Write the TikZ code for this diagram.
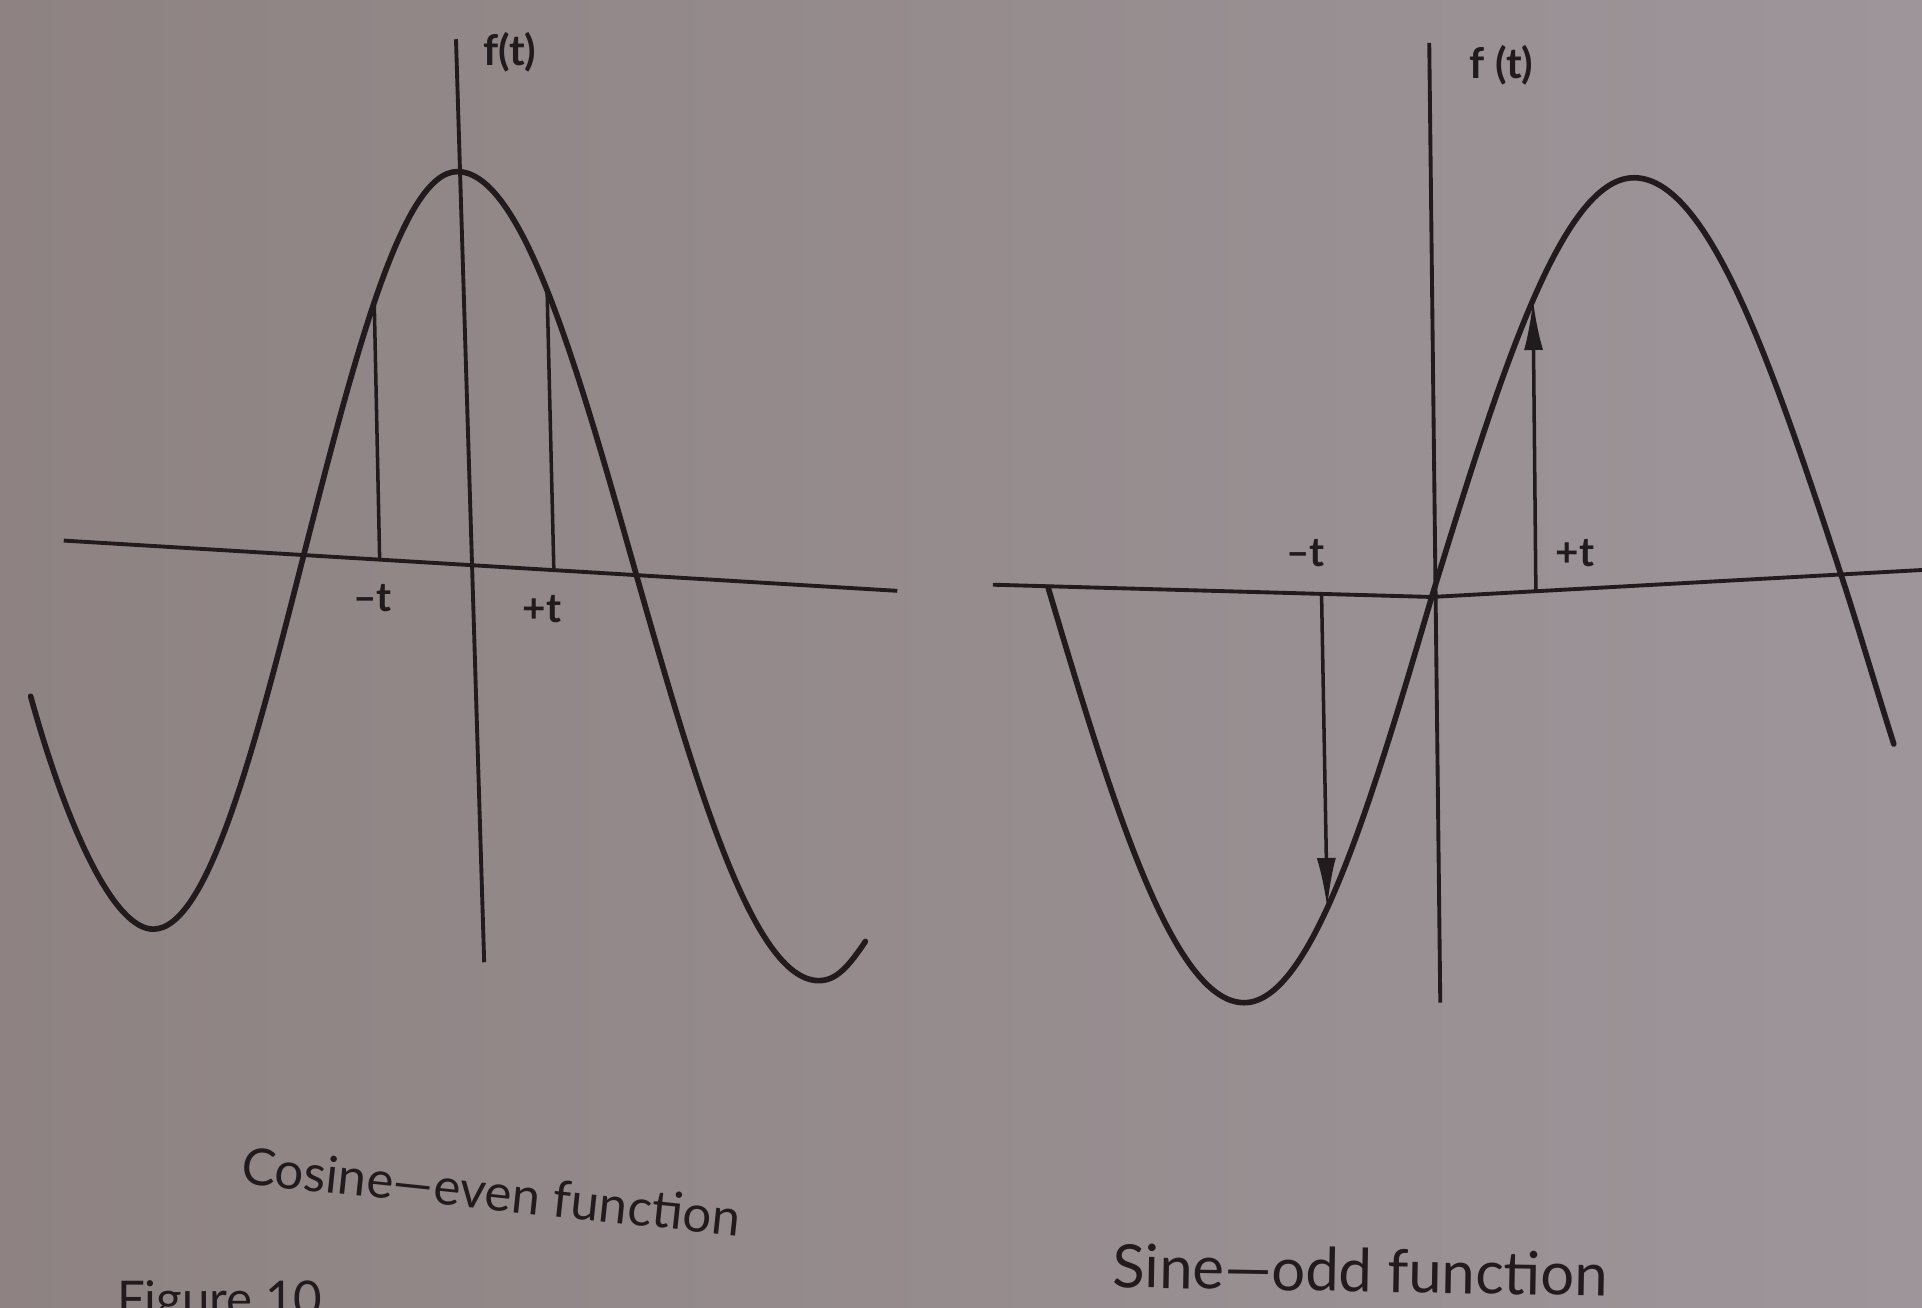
\documentclass[tikz,border=0pt]{standalone}
\usepackage{fontspec}
\setmainfont{Lato}
\usepackage{tikz}
\usetikzlibrary{arrows.meta, calc}
\definecolor{pageGrey}{HTML}{8E8382}
\definecolor{pageLight}{HTML}{9D959A}
\definecolor{inkDark}{HTML}{211B1D}

\begin{document}
\begin{tikzpicture}[
    x=0.012258cm, y=-0.012258cm,
    every node/.style={text=inkDark, inner sep=0pt},
    axisline/.style={draw=inkDark, line width=1.1pt},
    wave/.style={draw=inkDark, line width=1.6pt, line cap=round},
    tickline/.style={draw=inkDark, line width=1pt},
    arr/.style={draw=inkDark, line width=1pt, -{Latex[length=5mm, width=1.9mm]}},
    axlabel/.style={font=\fontsize{12}{14}\selectfont\bfseries},
    tlabel/.style={font=\fontsize{11.5}{14}\selectfont\bfseries},
    caption/.style={font=\fontsize{17}{20}\selectfont},
  ]
  % page
  \useasboundingbox (0,0) rectangle (1568,1067);
  \clip (0,0) rectangle (1568,1067);
  \shade[left color=pageGrey, right color=pageLight] (0,0) rectangle (1568,1067);

  % Cosine: axes
  \coordinate (cvtop) at (372,32);
  \coordinate (cvbot) at (395,785);
  \coordinate (chl) at (52,441);
  \coordinate (chr) at (732,482);
  \draw[axisline] (cvtop) -- (cvbot);
  \draw[axisline] (chl) -- (chr)
    coordinate[pos=0.379] (cfootl)
    coordinate[pos=0.588] (cfootr);
  \node[axlabel] (cft) at (416,43) {f(t)};

  % Cosine: curve
  \draw[wave] (25,568) .. controls (56,680) and (94,758) .. (125,758)
    .. controls (170,758) and (208,609) .. (248,452)
    .. controls (289,292) and (328,140) .. (373,140) coordinate[pos=0.47] (ctopl)
    .. controls (426,140) and (471,299) .. (518,465) coordinate[pos=0.49] (ctopr)
    .. controls (567,637) and (614,800) .. (668,800)
    .. controls (682,800) and (692,789) .. (706,768);

  % Cosine: -t and +t
  \draw[tickline] (ctopl) -- (cfootl);
  \draw[tickline] (ctopr) -- (cfootr);
  \node[tlabel] (cmt) at (304,488) {–t};
  \node[tlabel] (cpt) at (442,497) {+t};
  \node[caption, font=\fontsize{14.5}{18}\selectfont, rotate=-6] (ccap) at (401,972) {Cosine—even function};

  % Sine: axes
  \coordinate (svtop) at (1166,35);
  \coordinate (svbot) at (1175,818);
  \coordinate (shl) at (810,477);
  \coordinate (sorg) at (1168,487);
  \coordinate (shr) at (1568,465);
  \draw[axisline] (svtop) -- (svbot);
  \draw[axisline] (shl) -- (sorg) coordinate[pos=0.749] (sfootl)
    -- (shr) coordinate[pos=0.2125] (sfootr);
  \node[axlabel] (sft) at (1225,53) {f (t)};

  % Sine: curve
  \draw[wave] (855,479) .. controls (907,654) and (957,818) .. (1015,818)
    .. controls (1070,818) and (1118,657) .. (sorg) coordinate[pos=0.43] (stipl)
    .. controls (1222,312) and (1273,145) .. (1333,145) coordinate[pos=0.515] (stipr)
    .. controls (1395,145) and (1448,305) .. (1503,472)
    .. controls (1517,515) and (1531,563) .. (1545,607);

  % Sine: -t and +t arrows
  \draw[arr] (sfootl) -- (stipl);
  \draw[arr] (sfootr) -- (stipr);
  \node[tlabel] (smt) at (1065,451) {–t};
  \node[tlabel] (spt) at (1285,451) {+t};
  \node[caption, rotate=-1] (scap) at (1110,1036) {Sine—odd function};

  % caption cut by the page edge
  \node[font=\fontsize{14}{16}\selectfont, anchor=base west] (fig) at (95,1074) {Figure 10};
\end{tikzpicture}
\end{document}
